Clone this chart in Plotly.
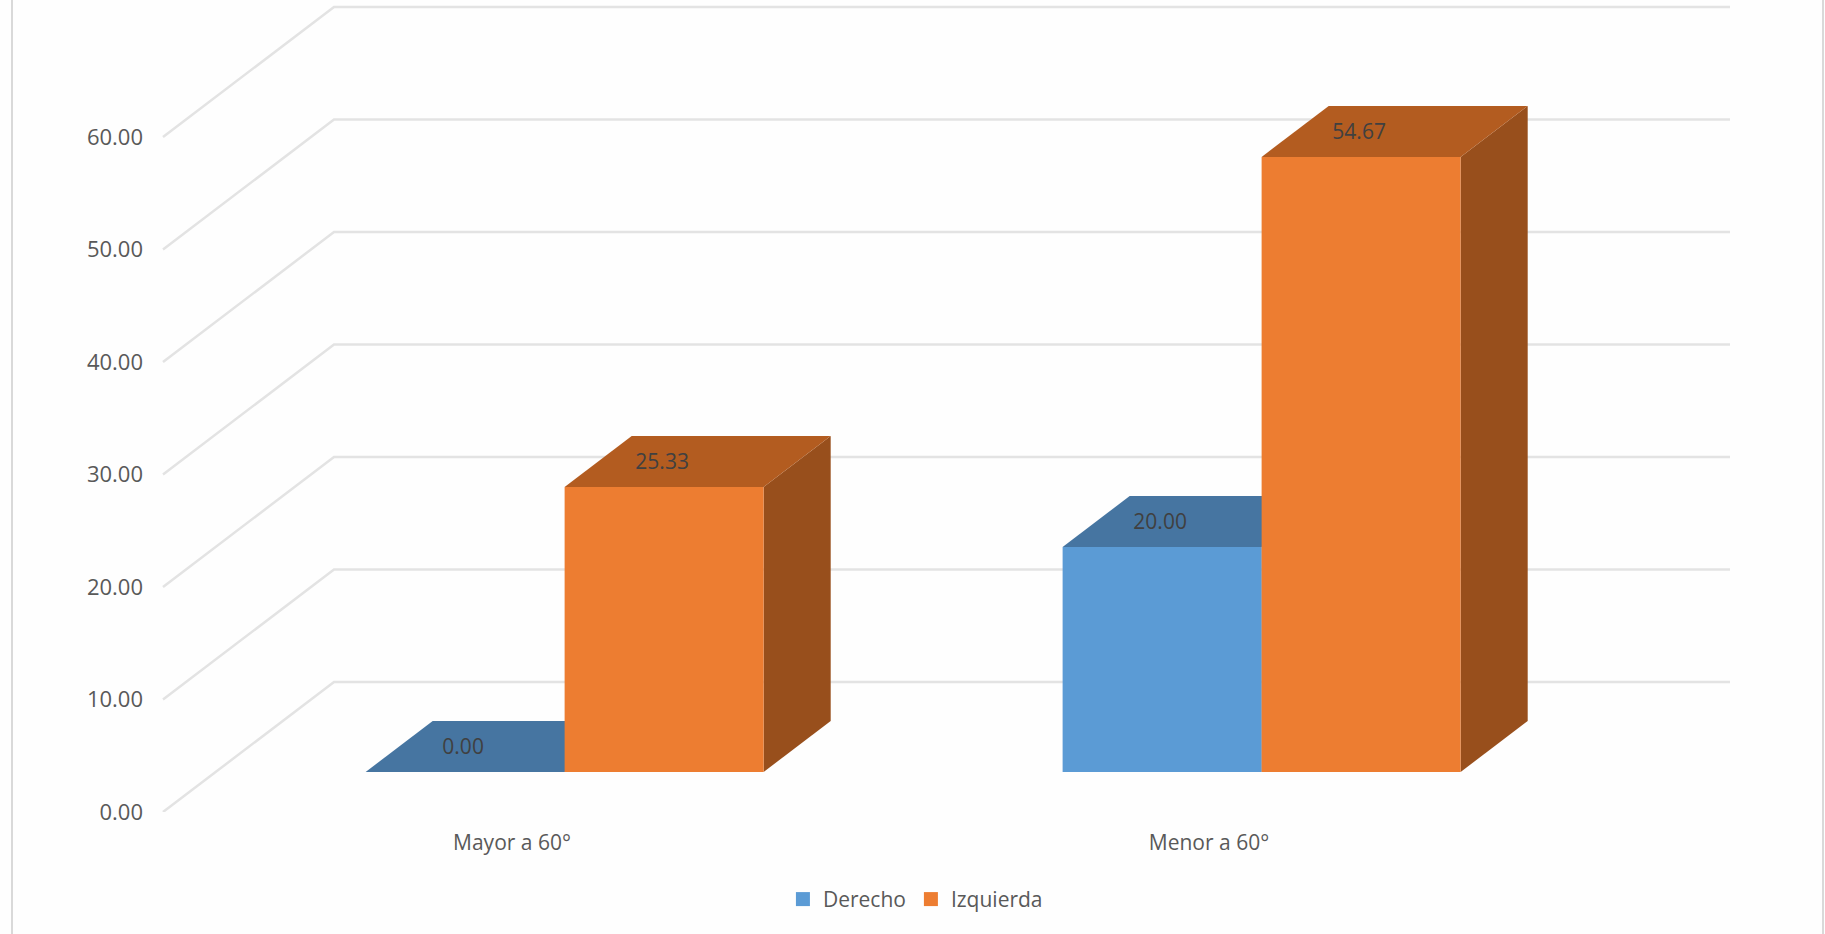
import plotly.graph_objects as go

# --- data ---
categories = ["Mayor a 60°", "Menor a 60°"]
derecho = [0.00, 20.00]
izquierda = [25.33, 54.67]
y_ticks = [0, 10, 20, 30, 40, 50, 60]
series_names = ["Derecho", "Izquierda"]

# --- styling ---
W, H = 1825, 934
L, B = 150, 122              # plot-area margins (px)
Y0_PX, PX_PER_UNIT = 812, 11.25
X0_PX, PX_PER_CAT = 512, 697
DEPTH_X = 171 / PX_PER_CAT   # oblique projection of the floor depth
DEPTH_Y = 130 / PX_PER_UNIT
D_FRONT, D_BACK = 40 / 130, 91 / 130
BAR_W = 199 / PX_PER_CAT
LEFT_EDGE = (163 - X0_PX) / PX_PER_CAT
RIGHT_EDGE = (1559 - X0_PX) / PX_PER_CAT
LABEL_DX, LABEL_DY = -2 / PX_PER_CAT, -2 / PX_PER_UNIT
TEXT = "#595959"
FONT = "Open Sans"
FACE = {"Derecho": dict(front="#5B9BD5", top="#4675A1", side="#3E6A94"),
        "Izquierda": dict(front="#ED7D31", top="#B35C20", side="#984F1C")}


def proj(x, v, d):
    return x + d * DEPTH_X, v + d * DEPTH_Y


def poly(points, color):
    xs, ys = zip(*[proj(*p) for p in points + points[:1]])
    return go.Scatter(x=xs, y=ys, mode="lines", fill="toself", fillcolor=color,
                      line=dict(width=0, color=color), hoverinfo="skip",
                      showlegend=False)


fig = go.Figure()

# gridlines: front end -> back wall -> right end
gx, gy = [], []
for t in y_ticks:
    for x, d in [(LEFT_EDGE, 0), (LEFT_EDGE, 1), (RIGHT_EDGE, 1)]:
        px_, py_ = proj(x, t, d)
        gx.append(px_)
        gy.append(py_)
    gx.append(None)
    gy.append(None)
fig.add_trace(go.Scatter(x=gx, y=gy, mode="lines", line=dict(color="#E3E3E3", width=2.5),
                         hoverinfo="skip", showlegend=False))

# bars
lx, ly, lt = [], [], []
for i, _ in enumerate(categories):
    for offset, name, vals in [(-BAR_W / 2, series_names[0], derecho),
                               (BAR_W / 2, series_names[1], izquierda)]:
        v = vals[i]
        c = FACE[name]
        a, b = i + offset - BAR_W / 2, i + offset + BAR_W / 2
        fig.add_trace(poly([(b, 0, D_FRONT), (b, 0, D_BACK), (b, v, D_BACK), (b, v, D_FRONT)], c["side"]))
        fig.add_trace(poly([(a, v, D_FRONT), (b, v, D_FRONT), (b, v, D_BACK), (a, v, D_BACK)], c["top"]))
        fig.add_trace(poly([(a, 0, D_FRONT), (b, 0, D_FRONT), (b, v, D_FRONT), (a, v, D_FRONT)], c["front"]))
        lx.append(i + offset + D_FRONT * DEPTH_X + LABEL_DX)
        ly.append(v + (D_FRONT + D_BACK) / 2 * DEPTH_Y + LABEL_DY)
        lt.append(f"{v:.2f}")

# data labels
fig.add_trace(go.Scatter(x=lx, y=ly, text=lt, mode="text", textposition="middle center",
                         textfont=dict(family=FONT, size=21, color="#404040"),
                         hoverinfo="skip", showlegend=False, cliponaxis=False))

# legend entries
for name in series_names:
    fig.add_trace(go.Scatter(x=[None], y=[None], mode="markers", name=name,
                             marker=dict(symbol="square", size=14, color=FACE[name]["front"])))

plot_w = W - L
plot_h = H - B
fig.update_layout(
    width=W, height=H,
    margin=dict(l=L, r=0, t=0, b=B, pad=0),
    paper_bgcolor="#FEFEFE", plot_bgcolor="rgba(0,0,0,0)",
    font=dict(family=FONT, size=21, color=TEXT),
    xaxis=dict(range=[(L - X0_PX) / PX_PER_CAT, (W - X0_PX) / PX_PER_CAT],
               tickmode="array", tickvals=[0, 1], ticktext=categories,
               showgrid=False, zeroline=False, showline=False, ticks="",
               ticklabelstandoff=16, tickfont=dict(family=FONT, size=21, color=TEXT)),
    yaxis=dict(range=[0, plot_h / PX_PER_UNIT],
               tickmode="array", tickvals=y_ticks, tickformat=".2f",
               showgrid=False, zeroline=False, showline=False, ticks="",
               ticklabelstandoff=6, tickfont=dict(family=FONT, size=22, color=TEXT)),
    legend=dict(orientation="h", xref="container", yref="container",
                x=0.429, xanchor="left", y=0.037, yanchor="middle",
                font=dict(family=FONT, size=21, color=TEXT),
                bgcolor="rgba(0,0,0,0)", itemclick=False, itemdoubleclick=False),
    shapes=[
        dict(type="line", xref="paper", yref="paper",
             x0=(px - L) / plot_w, x1=(px - L) / plot_w, y0=-B / plot_h, y1=1,
             line=dict(color="#D9D9D9", width=2))
        for px in (12, 1823)
    ],
)

fig.write_html("out.html", config={"displayModeBar": False},
               post_script="document.body.style.margin='0';document.body.style.overflow='hidden';")
